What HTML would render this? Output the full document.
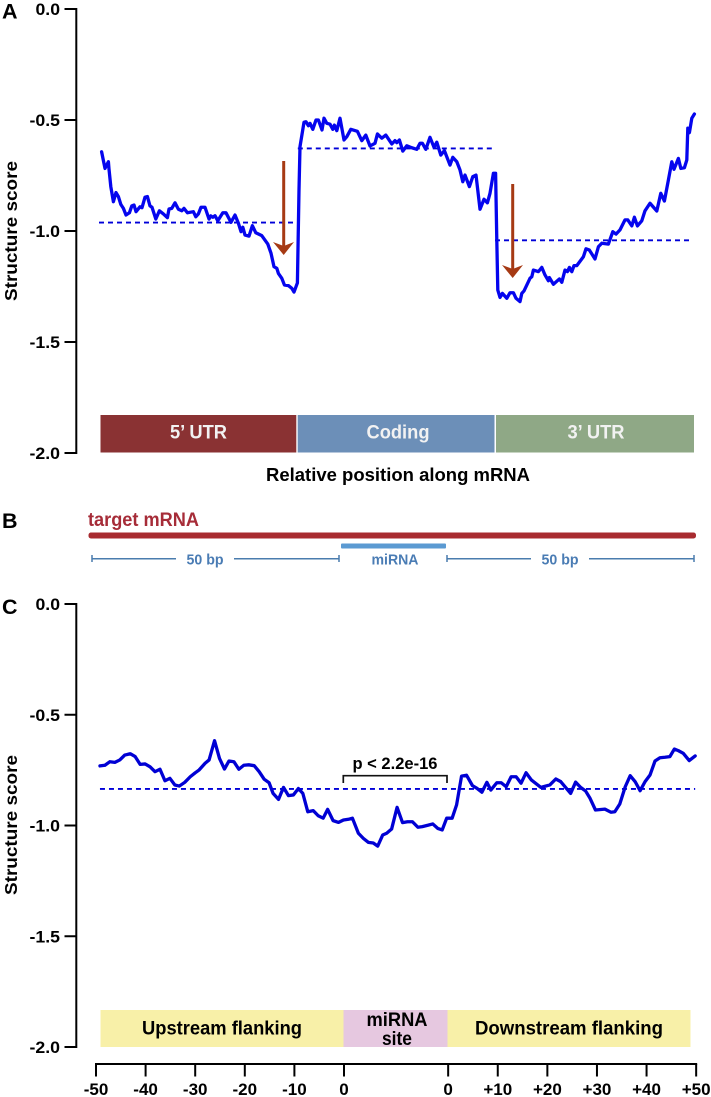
<!DOCTYPE html>
<html lang="en">
<head>
<meta charset="utf-8">
<title>Structure score along mRNA</title>
<style>
html,body{margin:0;padding:0;background:#fff;}
svg{display:block;filter:blur(0.35px);}
text{font-family:"Liberation Sans",Arial,sans-serif;font-weight:bold;}
</style>
</head>
<body>
<svg id="fig" xmlns="http://www.w3.org/2000/svg" width="711" height="1097" viewBox="0 0 711 1097">
  <text x="2" y="18.5" font-size="21.5" fill="#000">A</text>
  <text x="2" y="528" font-size="21.5" fill="#000">B</text>
  <text x="2" y="614" font-size="21.5" fill="#000">C</text>

  <g id="panelA"></g>
  <text transform="translate(17,231) rotate(-90)" text-anchor="middle" font-size="17.5" textLength="140" lengthAdjust="spacingAndGlyphs">Structure score</text>
  <rect x="100.5" y="415" width="195.8" height="37.5" fill="#8a3233"/>
  <rect x="297.7" y="415" width="196.8" height="37.5" fill="#6c8fb8"/>
  <rect x="496" y="415" width="198" height="37.5" fill="#8fa886"/>
  <text x="198.5" y="438.5" text-anchor="middle" font-size="19" fill="#f2f2f2" textLength="57" lengthAdjust="spacingAndGlyphs">5’ UTR</text>
  <text x="398" y="438.5" text-anchor="middle" font-size="19" fill="#f2f2f2" textLength="63" lengthAdjust="spacingAndGlyphs">Coding</text>
  <text x="596" y="438.5" text-anchor="middle" font-size="19" fill="#f2f2f2" textLength="57" lengthAdjust="spacingAndGlyphs">3’ UTR</text>
  <text x="398" y="481" text-anchor="middle" font-size="18" textLength="264" lengthAdjust="spacingAndGlyphs">Relative position along mRNA</text>

  <g>
    <line x1="283.7" y1="161" x2="283.7" y2="246" stroke="#a63a14" stroke-width="3"/>
    <polygon points="273,242 283.7,246 294,242 283.7,255" fill="#a63a14"/>
  </g>
  <g>
    <line x1="512.7" y1="184" x2="512.7" y2="269" stroke="#a63a14" stroke-width="3"/>
    <polygon points="502,265 512.7,269 523,265 512.7,278" fill="#a63a14"/>
  </g>

  <g>
    <text x="88" y="526" font-size="19" fill="#a62c38" textLength="111" lengthAdjust="spacingAndGlyphs">target mRNA</text>
    <rect x="88.5" y="532.5" width="607.5" height="6" rx="2.5" fill="#a82b30"/>
    <rect x="341" y="543.5" width="105" height="5" rx="1" fill="#5b9ad2"/>
    <g stroke="#4a7cae" stroke-width="1.5" fill="none">
      <path d="M92 555V562M92 558.7H176M234 558.7H339M339 555V562"/>
      <path d="M447 555V562M447 558.7H531M589 558.7H694M694 555V562"/>
    </g>
    <text x="205" y="564.5" text-anchor="middle" font-size="15" fill="#4a7cb4" textLength="37" lengthAdjust="spacingAndGlyphs">50 bp</text>
    <text x="395" y="564.5" text-anchor="middle" font-size="15" fill="#4a7cb4" textLength="47" lengthAdjust="spacingAndGlyphs">miRNA</text>
    <text x="560" y="564.5" text-anchor="middle" font-size="15" fill="#4a7cb4" textLength="37" lengthAdjust="spacingAndGlyphs">50 bp</text>
  </g>

  <g id="panelC"></g>
  <text transform="translate(17,825) rotate(-90)" text-anchor="middle" font-size="17.5" textLength="140" lengthAdjust="spacingAndGlyphs">Structure score</text>
  <path d="M343.3 783V775.7H447V783" fill="none" stroke="#111" stroke-width="1.7"/>
  <text x="395" y="769" text-anchor="middle" font-size="16.5" textLength="85" lengthAdjust="spacingAndGlyphs">p &lt; 2.2e-16</text>
  <rect x="100.5" y="1010" width="243" height="37" fill="#f8f0a8"/>
  <rect x="343.5" y="1010" width="104" height="37" fill="#e6c8e0"/>
  <rect x="447.5" y="1010" width="243" height="37" fill="#f8f0a8"/>
  <text x="222" y="1034.5" text-anchor="middle" font-size="19" textLength="160" lengthAdjust="spacingAndGlyphs">Upstream flanking</text>
  <text x="397" y="1026" text-anchor="middle" font-size="19" textLength="61" lengthAdjust="spacingAndGlyphs">miRNA</text>
  <text x="397" y="1045" text-anchor="middle" font-size="19" textLength="30" lengthAdjust="spacingAndGlyphs">site</text>
  <text x="569" y="1034.5" text-anchor="middle" font-size="19" textLength="188" lengthAdjust="spacingAndGlyphs">Downstream flanking</text>
</svg>
<script>
const yTickValues = [0, -0.5, -1, -1.5, -2];
const yTickLabels = ["0.0", "-0.5", "-1.0", "-1.5", "-2.0"];

const binsA = [0.8,2.5,4.2,4.5,5.4,6.7,8,9.2,10.4,11.7,13,14.7,15.9,17,18,20,21,22.5,23.7,25,26,27.9,29.7,31.7,33.7,34.5,35.9,37.5,39.2,40.9,42,43.7,46.7,47.9,49.2,50.5,52.5,54.5,55.4,56.4,57.5,58.9,61.4,63,65.5,67.5,69.2,70.5,71.4,72.5,74.5,76.2,77.9,80.9,83.9,85.5,87,88.4,89.2,90.9,92.2,94.2,95.9,97,98.7,99.5,100,102,103,104.2,105,106.4,108,109.2,111,112,113.4,115,116.4,117.2,118.4,120,122,123.4,125.4,128.7,130.9,132.9,135,137.5,138.7,140.9,142.9,145.9,147.5,148.4,149.7,151.4,153.4,155.9,158.4,160,161.2,162.9,165,167,168.4,170.4,172.2,175,176.4,178.4,180,181.4,182.5,184.7,186.4,188,190,192,193.7,195,196.7,197.8,198.4,198.9,200,201.2,203.4,205,206.7,208,210,210.9,212,215,215.9,216.7,219.2,220.9,222.5,224.2,224.7,226.7,229.7,230.9,232.5,233.7,234.7,235.9,237,238.4,241.7,243,244.7,247.5,249.2,250.9,254.2,256.4,258,260,262.5,263.9,265.9,267.2,268.7,270.9,272.5,275,278.4,280.4,282.2,284.2,285.9,287,289.2,290.4,292.2,293.4,293.9,294.7,295.9,297.2];
const scoresA = [-0.643,-0.718,-0.688,-0.721,-0.8,-0.868,-0.827,-0.845,-0.88,-0.898,-0.928,-0.918,-0.887,-0.883,-0.913,-0.891,-0.895,-0.848,-0.845,-0.887,-0.893,-0.946,-0.909,-0.923,-0.94,-0.901,-0.898,-0.873,-0.902,-0.909,-0.898,-0.918,-0.913,-0.936,-0.923,-0.893,-0.893,-0.946,-0.932,-0.938,-0.931,-0.954,-0.918,-0.918,-0.961,-0.928,-0.965,-1.003,-0.983,-1.018,-1.023,-0.976,-1.008,-1.021,-1.059,-1.1,-1.161,-1.168,-1.191,-1.213,-1.243,-1.246,-1.258,-1.275,-1.234,-0.815,-0.62,-0.51,-0.508,-0.526,-0.515,-0.542,-0.5,-0.5,-0.545,-0.492,-0.515,-0.519,-0.542,-0.523,-0.548,-0.492,-0.59,-0.575,-0.542,-0.551,-0.593,-0.568,-0.617,-0.605,-0.563,-0.582,-0.568,-0.608,-0.593,-0.602,-0.59,-0.64,-0.616,-0.625,-0.632,-0.605,-0.605,-0.632,-0.578,-0.623,-0.6,-0.658,-0.638,-0.703,-0.668,-0.688,-0.725,-0.778,-0.748,-0.8,-0.755,-0.748,-0.902,-0.857,-0.873,-0.83,-0.74,-0.74,-1.041,-1.266,-1.299,-1.281,-1.303,-1.278,-1.278,-1.303,-1.318,-1.281,-1.27,-1.213,-1.206,-1.176,-1.183,-1.164,-1.198,-1.224,-1.21,-1.24,-1.216,-1.231,-1.176,-1.183,-1.164,-1.183,-1.156,-1.156,-1.116,-1.08,-1.086,-1.126,-1.071,-1.055,-1.059,-1.003,-1.014,-0.995,-0.95,-0.95,-0.977,-0.938,-0.977,-0.954,-0.909,-0.875,-0.91,-0.83,-0.865,-0.77,-0.688,-0.722,-0.673,-0.718,-0.715,-0.68,-0.537,-0.557,-0.492,-0.473];
const meanBinStartsA = [-0.5, 98.9, 197.5];
const meanBinEndsA = [97, 196, 295.4];
const meanScoresA = [-0.962, -0.628, -1.042];

const positionsC = [0.8,1.8,2.8,3.8,4.8,5.8,6.9,7.9,8.9,9.9,10.9,11.9,12.9,13.9,14.9,15.9,16.8,17.9,19,20,20.8,22,22.8,23.9,24.9,25.9,26.8,27.8,28.8,29.8,30.8,31.9,32.9,33.9,34.9,35.7,36.8,37.8,38.8,39.8,40.8,41.7,42.7,43.8,44.8,45.8,46.7,47.8,48.9,49.9,50.9,51.7,52.9,53.9,54.9,55.9,56.8,57.8,58.6,59.6,60.7,61.8,62.8,63.8,64.9,65.8,66.9,67.9,68.9,69.8,70.7,71.8,72.7,73.7,74.7,75.9,76.8,77.8,78.8,79.6,80.8,81.7,82.7,83.7,84.7,85.7,86.7,87.8,89.7,91.5,92.7,93.7,95.7,96.7,97.7,98.7,99.6,100.7,102.6,103.8,104.6,105.6,106.7,107.7,108.7,109.7,110.7,111.7,112.7,113.7,114.7,115.7,116.6,117.4,118.4,119.6,120.8];
const scoresC = [-0.731,-0.728,-0.712,-0.715,-0.704,-0.682,-0.676,-0.689,-0.724,-0.722,-0.735,-0.757,-0.746,-0.798,-0.787,-0.817,-0.822,-0.805,-0.78,-0.762,-0.749,-0.719,-0.704,-0.617,-0.697,-0.745,-0.709,-0.712,-0.746,-0.728,-0.726,-0.73,-0.757,-0.791,-0.807,-0.855,-0.882,-0.828,-0.865,-0.862,-0.833,-0.855,-0.938,-0.933,-0.956,-0.967,-0.927,-0.978,-0.986,-0.975,-0.972,-0.967,-1.035,-1.058,-1.076,-1.079,-1.093,-1.043,-1.035,-1.016,-0.918,-0.987,-0.983,-0.983,-1.008,-1.005,-0.999,-0.993,-1.013,-1.02,-0.967,-0.967,-0.907,-0.777,-0.773,-0.82,-0.832,-0.85,-0.805,-0.84,-0.807,-0.807,-0.825,-0.78,-0.78,-0.809,-0.762,-0.795,-0.828,-0.817,-0.79,-0.802,-0.855,-0.804,-0.828,-0.844,-0.877,-0.93,-0.926,-0.94,-0.938,-0.903,-0.825,-0.775,-0.802,-0.843,-0.802,-0.772,-0.709,-0.694,-0.692,-0.689,-0.655,-0.662,-0.674,-0.707,-0.686];
const meanScoreC = -0.835;
const meanStartC = 0.8;
const meanEndC = 120.8;
const xTickValuesC = [0,10,20,30,40,50,71,81,91,101,111,121];
const xTickLabelsC = ["-50","-40","-30","-20","-10","0","0","+10","+20","+30","+40","+50"];

const xA = p => 100 + 2 * p;
const yA = v => 9 - 222 * v;
const xC = p => 96 + 4.96 * p;
const yC = v => 604 - 221.5 * v;

const NS = "http://www.w3.org/2000/svg";
function mk(parent, tag, attrs, content) {
  const node = document.createElementNS(NS, tag);
  for (const k in attrs) node.setAttribute(k, attrs[k]);
  if (content !== undefined) node.textContent = content;
  parent.appendChild(node);
  return node;
}
function linePath(xs, ys, fx, fy) {
  return xs.map((p, i) => (i ? "L" : "M") + fx(p).toFixed(2) + " " + fy(ys[i]).toFixed(2)).join("");
}
function drawYAxis(g, fy) {
  const axis = mk(g, "line", {x1: 76.3, x2: 76.3, y1: fy(0) - 1, y2: fy(-2) + 1, stroke: "#000", "stroke-width": 2});
  
  
  yTickValues.forEach((v, i) => {
    const tick = mk(g, "line", {x1: 64.5, x2: 77, y1: fy(v), y2: fy(v), stroke: "#000", "stroke-width": 2});
    
    
    const label = mk(g, "text", {x: 60, y: fy(v) + 6, "text-anchor": "end", "font-size": 17, textLength: yTickLabels[i].length > 3 ? 30.5 : 24.5, lengthAdjust: "spacingAndGlyphs"}, yTickLabels[i]);
    
    
  });
}

const gA = document.getElementById("panelA");
drawYAxis(gA, yA);
meanScoresA.forEach((m, i) => {
  const dash = mk(gA, "line", {x1: xA(meanBinStartsA[i]), x2: xA(meanBinEndsA[i]), y1: yA(m), y2: yA(m), stroke: "#0000d8", "stroke-width": 1.8, "stroke-dasharray": "5 4"});
  
  
});
const curveA = mk(gA, "path", {d: linePath(binsA, scoresA, xA, yA), fill: "none", stroke: "#0505ee", "stroke-width": 3.3, "stroke-linejoin": "round", "stroke-linecap": "round"});



const gC = document.getElementById("panelC");
drawYAxis(gC, yC);
const dashC = mk(gC, "line", {x1: xC(meanStartC), x2: xC(meanEndC), y1: yC(meanScoreC), y2: yC(meanScoreC), stroke: "#0000d8", "stroke-width": 1.8, "stroke-dasharray": "5 4"});


const curveC = mk(gC, "path", {d: linePath(positionsC, scoresC, xC, yC), fill: "none", stroke: "#0000d4", "stroke-width": 3.3, "stroke-linejoin": "round", "stroke-linecap": "round"});



const xAxisC = mk(gC, "line", {x1: xC(xTickValuesC[0]) - 1, x2: xC(xTickValuesC[xTickValuesC.length - 1]) + 1, y1: 1064, y2: 1064, stroke: "#000", "stroke-width": 2});


xTickValuesC.forEach((p, i) => {
  const tick = mk(gC, "line", {x1: xC(p), x2: xC(p), y1: 1064, y2: 1076.5, stroke: "#000", "stroke-width": 2});
  
  
  const label = mk(gC, "text", {x: xC(p), y: 1095, "text-anchor": "middle", "font-size": 17}, xTickLabelsC[i]);
  
  
});
</script>
</body>
</html>
